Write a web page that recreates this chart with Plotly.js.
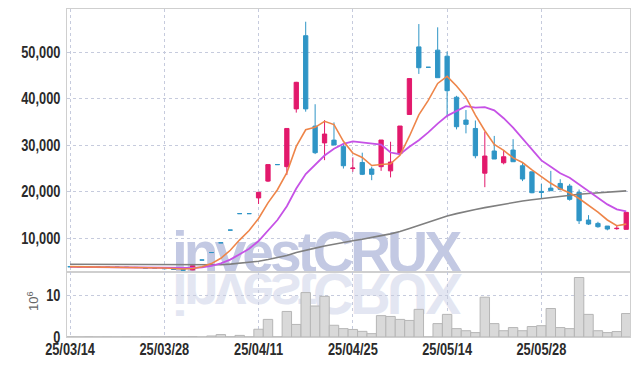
<!DOCTYPE html>
<html><head><meta charset="utf-8">
<script src="https://cdn.plot.ly/plotly-3.0.1.min.js"></script>
<style>
html,body{margin:0;padding:0;background:#fff;}
#wrap{position:relative;width:639px;height:366px;overflow:hidden;}
#wm{position:absolute;left:0;top:0;z-index:0;}
#chart{position:absolute;left:0;top:0;width:639px;height:366px;z-index:1;}
</style></head>
<body>
<div id="wrap">
<svg id="wm" width="639" height="366" xmlns="http://www.w3.org/2000/svg">
 <g font-family="Liberation Sans, Arial, sans-serif" font-weight="bold" font-size="57" letter-spacing="-4">
  <text x="172" y="272" fill="#c3c9e3">investCRUX</text>
  <text x="172" y="272" fill="#c3c9e3" opacity="0.45" transform="translate(0,546) scale(1,-1)">investCRUX</text>
 </g>
</svg>
<div id="chart"></div>
</div>
<script>
const dates = ["25/03/14","25/03/17","25/03/18","25/03/19","25/03/20","25/03/21","25/03/24","25/03/25","25/03/26","25/03/27",
"25/03/28","25/03/31","25/04/01","25/04/02","25/04/03","25/04/04","25/04/07","25/04/08","25/04/09","25/04/10",
"25/04/11","25/04/14","25/04/15","25/04/16","25/04/17","25/04/18","25/04/21","25/04/22","25/04/23","25/04/24",
"25/04/25","25/04/28","25/04/29","25/04/30","25/05/02","25/05/07","25/05/08","25/05/09","25/05/12","25/05/13",
"25/05/14","25/05/15","25/05/16","25/05/19","25/05/20","25/05/21","25/05/22","25/05/23","25/05/26","25/05/27",
"25/05/28","25/05/29","25/05/30","25/06/02","25/06/04","25/06/05","25/06/09","25/06/10","25/06/11","25/06/12"];

const openP = [3950,3930,3900,3880,3860,3850,3820,3790,3720,3600,
3560,3500,3350,3250,5370,6980,9070,11790,15330,15330,
18700,22300,25850,25400,37800,53500,34100,30500,31100,29700,
25000,26300,24900,25400,24500,28260,36600,51100,46720,50400,
49100,40300,35400,33600,24000,28760,26240,28970,25600,24300,
20100,20800,21800,21240,19890,13950,13230,12660,12100,11950];
const highP = [3990,3960,3930,3910,3890,3880,3850,3820,3760,3640,
3600,3540,3380,4130,5370,6980,9070,11790,15330,15330,
19900,25850,25850,33600,43600,56500,38800,35400,34900,30400,
27400,28400,25400,31120,30750,34120,44300,56000,46720,55300,
50100,40600,37550,35300,32900,32000,28970,31300,26400,24300,
21700,24500,22700,21700,20500,15000,13580,12660,12880,15600];
const lowP = [3900,3880,3860,3840,3830,3800,3770,3740,3580,3540,
3500,3330,3150,3200,5370,6980,9070,11790,15330,15330,
17400,22100,25850,23600,37000,37200,28100,26800,30050,25000,
24300,23600,22500,24500,23100,28000,36600,45300,46720,44490,
36000,33400,32550,27200,21000,27040,25900,26460,22300,19700,
18600,20240,20300,18100,13100,12880,12300,11740,11870,11950];
const closeP = [3930,3900,3880,3860,3850,3820,3790,3760,3600,3560,
3520,3350,3180,4130,5370,6980,9070,11790,15330,15330,
19900,25850,25850,33600,43500,37800,28400,32400,30050,25600,
25100,23760,23760,31120,26390,34120,44300,46630,46720,44490,
41700,33970,34480,27750,27680,27040,27530,26460,22750,19810,
19890,20240,20540,18390,13800,13090,12520,12020,12170,15600];

const ma5 = [3960,3940,3920,3900,3884,3842,3840,3816,3764,3706,
3646,3558,3442,3548,3910,4602,5746,7468,9708,11700,
14284,17640,20452,24106,29740,33320,33830,35140,34430,30850,
28310,27382,25654,25868,26026,27830,31938,36512,39632,43252,
44768,42702,40272,36478,33116,30184,28896,27292,26292,24718,
23288,21830,20646,19774,18572,17212,15668,13964,12720,13080];
const ma10 = [3900,3890,3880,3870,3860,3850,3840,3825,3810,3795,
3754,3699,3629,3656,3808,4124,4652,5455,6628,7805,
9443,11693,13960,16907,20720,23802,25735,27796,29268,30295,
30815,30606,30397,30149,28438,28070,29660,31083,32750,34639,
36300,37321,38393,38056,38185,37477,35800,33783,31386,28918,
26737,25364,23970,23034,21646,20251,18750,17306,16248,15827];
const ma60 = [4450,4440,4430,4420,4410,4400,4385,4370,4350,4330,
4310,4290,4270,4260,4270,4300,4370,4490,4670,4850,
5110,5470,5830,6320,6970,7520,7920,8390,8820,9170,
9520,9840,10160,10610,10980,11470,12140,12840,13540,14210,
14830,15330,15830,16220,16610,16980,17370,17740,18040,18300,
18560,18820,19090,19320,19480,19630,19760,19890,20020,20200];

const volume = [0.04,0.03,0.05,0.03,0.04,0.03,0.05,0.04,0.06,0.04,
0.05,0.06,0.07,0.08,0.02,0.24,0.58,0.05,0.38,0.03,
1.85,4.2,0.04,6.1,3.0,10.6,7.4,9.7,2.8,2.0,
1.8,1.35,0.8,5.1,4.9,4.2,3.95,6.6,0.03,3.2,
5.4,2.0,1.5,1.05,9.5,3.2,1.5,2.25,1.5,2.5,
2.7,6.8,2.25,2.0,14.2,5.4,1.5,1.05,1.3,5.6];

const tickDates = ["25/03/14","25/03/28","25/04/11","25/04/25","25/05/14","25/05/28"];
const priceTicks = [10000,20000,30000,40000,50000];
const volTicks = [0,10];

const RED = '#e2196c', BLUE = '#2f95c6';
const GRID = '#c6cbdd';
const FONT = 'Liberation Sans, Arial, sans-serif';

function pick(arr, cond){ return arr.map((v,i)=> cond(i) ? v : null); }
const isUp = i => closeP[i] > openP[i];
const isDown = i => !(closeP[i] > openP[i]);

function candle(cond, color){
  return {type:'candlestick', x:dates,
    open:pick(openP,cond), high:pick(highP,cond), low:pick(lowP,cond), close:pick(closeP,cond),
    increasing:{line:{color:color,width:1}, fillcolor:color},
    decreasing:{line:{color:color,width:1}, fillcolor:color},
    whiskerwidth:0, xaxis:'x', yaxis:'y', hoverinfo:'skip', showlegend:false};
}

const data = [
  candle(isUp, RED), candle(isDown, BLUE),
  {type:'scatter', mode:'lines', x:dates, y:ma60, line:{color:'#7f7f7f', width:1.6}, xaxis:'x', yaxis:'y', hoverinfo:'skip'},
  {type:'scatter', mode:'lines', x:dates, y:ma10, line:{color:'#c652e6', width:1.8}, xaxis:'x', yaxis:'y', hoverinfo:'skip'},
  {type:'scatter', mode:'lines', x:dates, y:ma5, line:{color:'#ee8549', width:1.6}, xaxis:'x', yaxis:'y', hoverinfo:'skip'},
  {type:'bar', x:dates, y:volume, marker:{color:'#d9d9d9', line:{color:'#b6b6b6', width:1}}, xaxis:'x2', yaxis:'y2', hoverinfo:'skip'}
];

const axisCommon = {showline:true, linecolor:'#cfcfcf', linewidth:1, mirror:true, showgrid:true, gridcolor:GRID, griddash:'dot', gridwidth:1, zeroline:false, fixedrange:true};
const tf = {family:FONT, size:16, color:'#2b2b2b', weight:'bold'};

const layout = {
  width:639, height:366,
  margin:{l:67, r:9, t:9, b:29, pad:0},
  paper_bgcolor:'rgba(0,0,0,0)', plot_bgcolor:'rgba(0,0,0,0)',
  showlegend:false, boxgap:0.35, bargap:0,
  font:{family:FONT, size:16, color:'#333'},
  xaxis:Object.assign({}, axisCommon, {type:'category', categoryorder:'array', categoryarray:dates, range:[-0.32,59.4], anchor:'y', domain:[0,1], tickvals:tickDates, showticklabels:false, ticks:'', rangeslider:{visible:false}}),
  xaxis2:Object.assign({}, axisCommon, {type:'category', categoryorder:'array', categoryarray:dates, matches:'x', range:[-0.32,59.4], anchor:'y2', domain:[0,1], tickvals:tickDates, ticktext:tickDates, ticks:'', ticklabelstandoff:-2, tickfont:tf}),
  yaxis:Object.assign({}, axisCommon, {domain:[0.198,1], range:[2790,59230], anchor:'x', tickvals:priceTicks, tickformat:',', ticks:'outside', ticklen:1, tickcolor:'rgba(0,0,0,0)', tickfont:tf}),
  yaxis2:Object.assign({}, axisCommon, {domain:[0,0.198], range:[0,15.5], anchor:'x2', tickvals:volTicks, ticks:'outside', ticklen:1, tickcolor:'rgba(0,0,0,0)', tickfont:tf}),
  annotations:[{text:'10<sup>6</sup>', xref:'paper', yref:'paper', x:-34/563, y:(337-301)/328, xanchor:'center', yanchor:'middle', textangle:-90, showarrow:false, font:{family:FONT, size:13, color:'#666'}}]
};

Plotly.newPlot('chart', data, layout, {displayModeBar:false, staticPlot:true}).then(()=>{
  const box = document.getElementById('chart').getBoundingClientRect();
  document.querySelectorAll('#chart .x2tick text, #chart .ytick text, #chart .y2tick text').forEach(t=>{
    const w = t.getComputedTextLength();
    t.setAttribute('textLength', (w*0.8).toFixed(1));
    t.setAttribute('lengthAdjust','spacingAndGlyphs');
  });
  document.querySelectorAll('#chart .ytick text, #chart .y2tick text').forEach(t=>{
    const r = t.getBoundingClientRect();
    const shift = 60.5 - (r.right - box.left);
    t.setAttribute('dx', shift.toFixed(1));
  });
});
</script>
</body></html>
